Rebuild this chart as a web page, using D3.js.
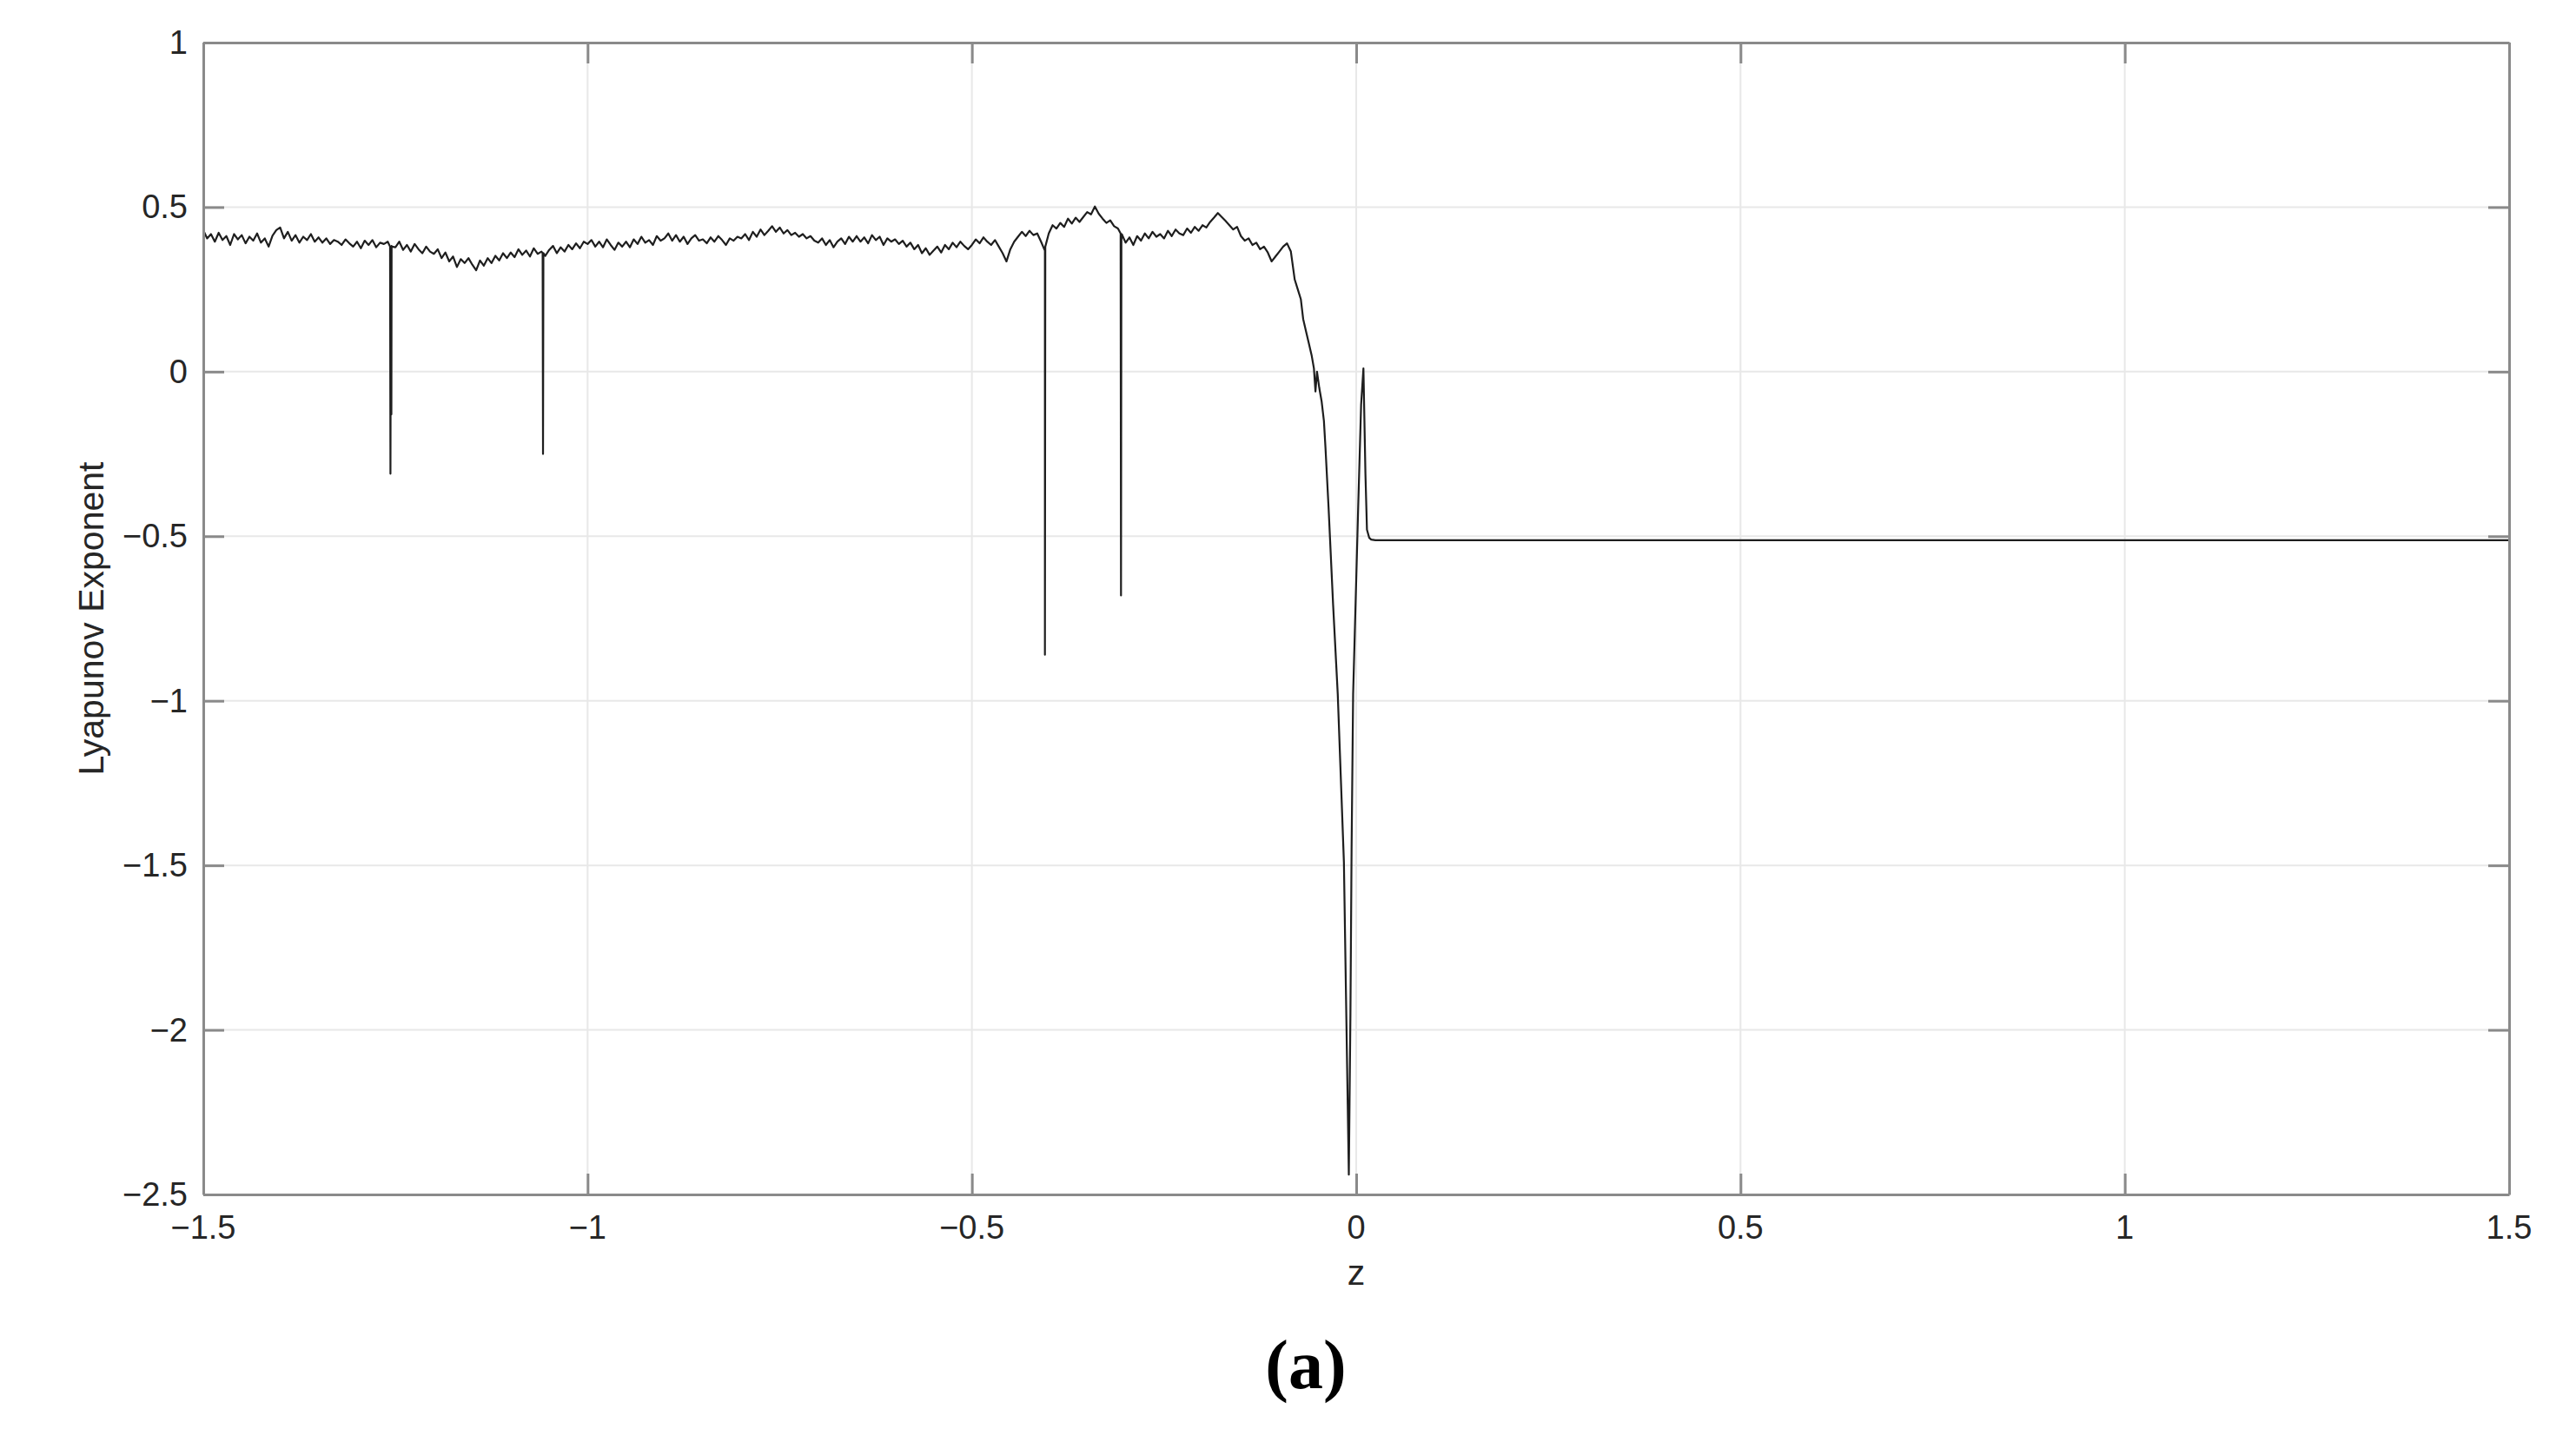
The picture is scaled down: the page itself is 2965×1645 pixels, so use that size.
<!DOCTYPE html>
<html>
<head>
<meta charset="utf-8">
<script src="https://cdn.jsdelivr.net/npm/d3@7"></script>
<style>
  html, body { margin: 0; padding: 0; background: #ffffff; }
  svg { display: block; }
</style>
</head>
<body>
<svg id="chart" width="2965" height="1645"></svg>
<script>
// ---------------- DATA ----------------
const xTicks = [-1.5, -1, -0.5, 0, 0.5, 1, 1.5];
const yTicks = [1, 0.5, 0, -0.5, -1, -1.5, -2, -2.5];
const xTickLabels = ["\u22121.5", "\u22121", "\u22120.5", "0", "0.5", "1", "1.5"];
const yTickLabels = ["1", "0.5", "0", "\u22120.5", "\u22121", "\u22121.5", "\u22122", "\u22122.5"];

// chaotic band: samples of z starting at noisyStart, spaced noisyStep
const noisyStart = -1.5;
const noisyStep = 0.005;
const noisyLyap = [
  0.430, 0.405, 0.418, 0.395, 0.422, 0.400, 0.412, 0.385, 0.418, 0.402,
  0.415, 0.390, 0.410, 0.398, 0.420, 0.392, 0.405, 0.380, 0.413, 0.430,
  0.438, 0.405, 0.425, 0.398, 0.415, 0.392, 0.410, 0.400, 0.418, 0.395,
  0.408, 0.392, 0.405, 0.388, 0.400, 0.395, 0.385, 0.402, 0.390, 0.380,
  0.395, 0.375, 0.398, 0.385, 0.400, 0.378, 0.392, 0.388, 0.395, 0.382,
  0.378, 0.395, 0.370, 0.385, 0.365, 0.388, 0.372, 0.360, 0.380, 0.365,
  0.358, 0.372, 0.345, 0.362, 0.335, 0.350, 0.318, 0.342, 0.330, 0.345,
  0.325, 0.308, 0.338, 0.322, 0.345, 0.330, 0.352, 0.338, 0.360, 0.345,
  0.362, 0.348, 0.372, 0.355, 0.368, 0.350, 0.375, 0.358, 0.365, 0.352,
  0.370, 0.382, 0.360, 0.378, 0.365, 0.385, 0.372, 0.390, 0.375, 0.395,
  0.388, 0.400, 0.380, 0.395, 0.378, 0.402, 0.385, 0.370, 0.392, 0.380,
  0.395, 0.378, 0.402, 0.388, 0.410, 0.392, 0.400, 0.385, 0.412, 0.398,
  0.405, 0.420, 0.398, 0.415, 0.395, 0.410, 0.388, 0.405, 0.415, 0.398,
  0.402, 0.390, 0.408, 0.395, 0.412, 0.400, 0.385, 0.405, 0.398, 0.410,
  0.405, 0.418, 0.400, 0.425, 0.410, 0.432, 0.415, 0.428, 0.442, 0.425,
  0.438, 0.420, 0.430, 0.415, 0.422, 0.410, 0.418, 0.405, 0.412, 0.398,
  0.392, 0.405, 0.385, 0.400, 0.378, 0.395, 0.405, 0.388, 0.410, 0.395,
  0.412, 0.395, 0.408, 0.390, 0.415, 0.400, 0.410, 0.385, 0.405, 0.395,
  0.402, 0.388, 0.398, 0.380, 0.392, 0.372, 0.385, 0.360, 0.375, 0.355,
  0.368, 0.380, 0.362, 0.385, 0.372, 0.392, 0.378, 0.395, 0.382, 0.372,
  0.385, 0.402, 0.390, 0.408, 0.395, 0.385, 0.400, 0.380, 0.360, 0.335,
  0.372, 0.395, 0.410, 0.425, 0.412, 0.428, 0.415, 0.420, 0.395, 0.370,
  0.420, 0.445, 0.435, 0.452, 0.440, 0.465, 0.450, 0.468, 0.455, 0.470,
  0.485, 0.478, 0.502, 0.480, 0.465, 0.452, 0.460, 0.442, 0.435, 0.418,
  0.392, 0.408, 0.385, 0.412, 0.398, 0.420, 0.405, 0.425, 0.410, 0.418,
  0.405, 0.428, 0.412, 0.432, 0.420, 0.415, 0.435, 0.422, 0.440, 0.428,
  0.445, 0.438, 0.455, 0.468, 0.482, 0.470, 0.458, 0.445, 0.432, 0.440,
  0.412, 0.398, 0.405, 0.385, 0.392, 0.372, 0.380, 0.362, 0.335, 0.350,
  0.365, 0.380, 0.390, 0.365
];

// narrow negative spikes in the chaotic band
const spikeZ = [
  -1.2570, -1.2565, -1.2562, -1.2559, -1.2556, -1.2553, -1.2550,
  -1.0585, -1.0580, -1.0575,
  -0.4055, -0.4050, -0.4045,
  -0.3065, -0.3060, -0.3055
];
const spikeLyap = [
  0.38, -0.31, 0.07, -0.13, 0.07, -0.13, 0.38,
  0.36, -0.25, 0.36,
  0.37, -0.86, 0.38,
  0.42, -0.68, 0.40
];

// transition around z = 0 and periodic regime
const dropZ = [-0.080, -0.076, -0.072, -0.069, -0.065, -0.062, -0.058, -0.055, -0.053, -0.051,
  -0.048, -0.045, -0.042, -0.040, -0.036, -0.030, -0.024, -0.016, -0.0096, -0.0075,
  -0.006, -0.004, 0.0026, 0.0064, 0.0094, 0.012, 0.014, 0.017, 0.0195, 0.025, 1.5];
const dropLyap = [0.28, 0.25, 0.22, 0.16, 0.12, 0.09, 0.05, 0.01, -0.06, 0.0,
  -0.05, -0.09, -0.15, -0.23, -0.41, -0.71, -0.98, -1.49, -2.44, -1.95,
  -1.45, -0.98, -0.41, -0.10, 0.01, -0.31, -0.48, -0.505, -0.51, -0.512, -0.512];

// ---------------- CHART ----------------
const W = 2965, H = 1645;
const L = 234, R = 2888, T = 49, B = 1375;
const svg = d3.select("#chart");

const x = d3.scaleLinear().domain([-1.5, 1.5]).range([L, R]);
const y = d3.scaleLinear().domain([-2.5, 1]).range([B, T]);

const axisColor = "#8a8a8a";
const textColor = "#262626";
const font = "'Liberation Sans', Arial, Helvetica, sans-serif";

// grid
const grid = svg.append("g");
grid.selectAll(".gx").data(xTicks).enter().append("line")
  .attr("x1", d => x(d)).attr("x2", d => x(d)).attr("y1", T).attr("y2", B)
  .attr("stroke", "#e8e8e8").attr("stroke-width", 2);
grid.selectAll(".gy").data(yTicks).enter().append("line")
  .attr("x1", L).attr("x2", R).attr("y1", d => y(d)).attr("y2", d => y(d))
  .attr("stroke", "#e8e8e8").attr("stroke-width", 2);

// series
const pts = [];
noisyLyap.forEach((v, i) => pts.push([noisyStart + i * noisyStep, v]));
spikeZ.forEach((z, i) => pts.push([z, spikeLyap[i]]));
dropZ.forEach((z, i) => pts.push([z, dropLyap[i]]));
pts.sort((a, b) => a[0] - b[0]);

const line = d3.line().x(d => x(d[0])).y(d => y(d[1]));
svg.append("path").datum(pts)
  .attr("d", line)
  .attr("fill", "none")
  .attr("stroke", "#1e1e1e")
  .attr("stroke-width", 2.2)
  .attr("stroke-linejoin", "round");

// axes with inward ticks on all four sides
const tickLen = 24;
const axB = svg.append("g").attr("transform", `translate(0,${B})`)
  .call(d3.axisBottom(x).tickValues(xTicks).tickSizeInner(-tickLen).tickSizeOuter(0)
        .tickPadding(0).tickFormat((d, i) => ""));
const axT = svg.append("g").attr("transform", `translate(0,${T})`)
  .call(d3.axisTop(x).tickValues(xTicks).tickSizeInner(-tickLen).tickSizeOuter(0).tickFormat(""));
const axL = svg.append("g").attr("transform", `translate(${L},0)`)
  .call(d3.axisLeft(y).tickValues(yTicks).tickSizeInner(-tickLen).tickSizeOuter(0).tickFormat(""));
const axR = svg.append("g").attr("transform", `translate(${R},0)`)
  .call(d3.axisRight(y).tickValues(yTicks).tickSizeInner(-tickLen).tickSizeOuter(0).tickFormat(""));
[axB, axT, axL, axR].forEach(g => {
  g.selectAll("path.domain").attr("stroke", axisColor).attr("stroke-width", 3);
  g.selectAll(".tick line").attr("stroke", axisColor).attr("stroke-width", 3);
});

// tick labels
svg.append("g").selectAll("text").data(xTicks).enter().append("text")
  .attr("x", d => x(d)).attr("y", 1426)
  .attr("text-anchor", "middle")
  .attr("font-family", font).attr("font-size", 38).attr("fill", textColor)
  .text((d, i) => xTickLabels[i]);
svg.append("g").selectAll("text").data(yTicks).enter().append("text")
  .attr("x", 216).attr("y", d => y(d) + 13)
  .attr("text-anchor", "end")
  .attr("font-family", font).attr("font-size", 38).attr("fill", textColor)
  .text((d, i) => yTickLabels[i]);

// axis labels
svg.append("text")
  .attr("x", (L + R) / 2).attr("y", 1479)
  .attr("text-anchor", "middle")
  .attr("font-family", font).attr("font-size", 41).attr("fill", textColor)
  .text("z");
svg.append("text")
  .attr("transform", `translate(119,${(T + B) / 2}) rotate(-90)`)
  .attr("text-anchor", "middle")
  .attr("font-family", font).attr("font-size", 41).attr("fill", textColor)
  .text("Lyapunov Exponent");

// panel label
svg.append("text")
  .attr("x", 1503).attr("y", 1598)
  .attr("text-anchor", "middle")
  .attr("font-family", "'Liberation Serif', 'Times New Roman', serif")
  .attr("font-weight", "bold")
  .attr("font-size", 80).attr("fill", "#000")
  .text("(a)");
</script>
</body>
</html>
